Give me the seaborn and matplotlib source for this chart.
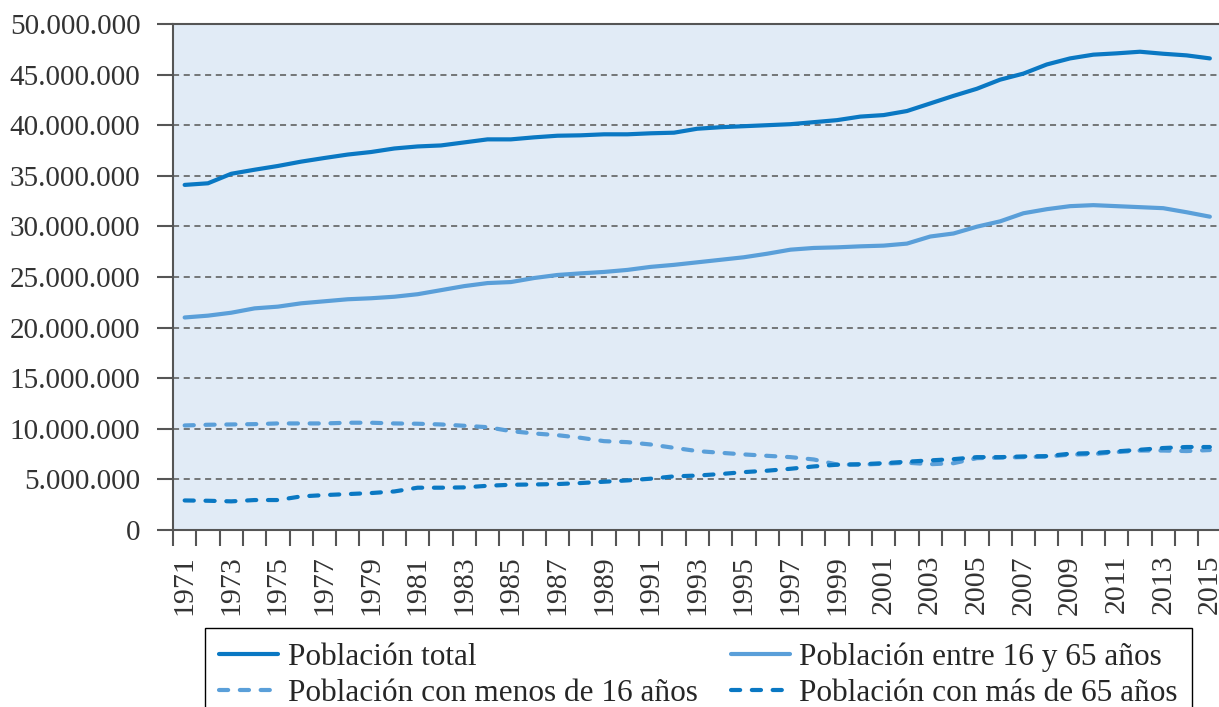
import numpy as np
import pandas as pd
import matplotlib
matplotlib.use("Agg")
import matplotlib.pyplot as plt
import seaborn as sns

years = list(range(1971, 2016))

total = [34.1, 34.26, 35.2, 35.6, 35.97, 36.4, 36.76, 37.1, 37.35, 37.7,
         37.9, 38.0, 38.3, 38.6, 38.6, 38.8, 38.96, 39.0, 39.1, 39.1,
         39.2, 39.26, 39.65, 39.8, 39.9, 40.0, 40.1, 40.3, 40.5, 40.85,
         41.0, 41.4, 42.15, 42.9, 43.6, 44.5, 45.1, 46.0, 46.6, 46.97,
         47.1, 47.26, 47.06, 46.9, 46.6]

entre_16_65 = [21.0, 21.18, 21.47, 21.9, 22.07, 22.4, 22.6, 22.8, 22.9, 23.05,
               23.3, 23.7, 24.1, 24.4, 24.5, 24.9, 25.2, 25.36, 25.5, 25.7,
               26.0, 26.2, 26.45, 26.7, 26.95, 27.3, 27.7, 27.87, 27.93, 28.03,
               28.1, 28.3, 29.0, 29.3, 29.97, 30.5, 31.3, 31.7, 32.0, 32.1,
               32.0, 31.9, 31.8, 31.4, 30.96]

menos_16 = [10.33, 10.4, 10.43, 10.46, 10.53, 10.53, 10.53, 10.6, 10.6, 10.53,
            10.5, 10.43, 10.3, 10.16, 9.77, 9.54, 9.37, 9.11, 8.78, 8.68,
            8.45, 8.12, 7.8, 7.63, 7.47, 7.33, 7.2, 6.97, 6.47, 6.45,
            6.55, 6.65, 6.5, 6.6, 7.1, 7.15, 7.2, 7.25, 7.45, 7.5,
            7.7, 7.85, 7.85, 7.8, 7.9]

mas_65 = [2.92, 2.89, 2.83, 2.96, 2.96, 3.32, 3.45, 3.55, 3.65, 3.81,
          4.18, 4.18, 4.21, 4.37, 4.47, 4.5, 4.54, 4.64, 4.77, 4.9,
          5.07, 5.3, 5.38, 5.53, 5.72, 5.86, 6.05, 6.28, 6.45, 6.5,
          6.6, 6.75, 6.88, 7.0, 7.2, 7.2, 7.27, 7.3, 7.54, 7.6,
          7.77, 7.93, 8.1, 8.2, 8.2]

series_names = ["Población total", "Población entre 16 y 65 años",
                "Población con menos de 16 años", "Población con más de 65 años"]

dark_blue = "#0a78c3"
light_blue = "#5a9fd9"
palette = {
    series_names[0]: dark_blue,
    series_names[1]: light_blue,
    series_names[2]: light_blue,
    series_names[3]: dark_blue,
}
dashes = {
    series_names[0]: "",
    series_names[1]: "",
    series_names[2]: (2.2, 2.8),
    series_names[3]: (2.2, 2.8),
}

frames = []
for name, vals in zip(series_names, [total, entre_16_65, menos_16, mas_65]):
    frames.append(pd.DataFrame({"year": years, "value": np.array(vals) * 1e6, "serie": name}))
df = pd.concat(frames, ignore_index=True)

sns.set_style("ticks")
plt.rcParams['font.family'] = ['Liberation Serif', 'DejaVu Serif']

fig = plt.figure(figsize=(12.19, 7.07), dpi=100)
ax = fig.add_axes([173 / 1219, 1 - 530 / 707, 1048.5 / 1219, 506 / 707])
ax.set_facecolor("#e1ebf6")

sns.lineplot(data=df, x="year", y="value", hue="serie", style="serie",
             hue_order=series_names, style_order=series_names,
             palette=palette, dashes=dashes, linewidth=3,
             dash_capstyle="round", solid_capstyle="round", ax=ax)

ax.set_xlim(1970.5, 2015.5)
ax.set_ylim(0, 50e6)
ax.set_xlabel("")
ax.set_ylabel("")

yt = np.arange(0, 50e6 + 1, 5e6)
ax.set_yticks(yt)
ax.set_yticklabels([f"{int(v):,}".replace(",", ".") for v in yt])
ax.grid(axis="y", linestyle=(0, (4, 3)), color="#555555", linewidth=1.1)
ax.set_axisbelow(True)

odd_years = list(range(1971, 2016, 2))
ax.set_xticks(odd_years)
ax.set_xticklabels([str(y) for y in odd_years], rotation=90, va="top")
ax.set_xticks(np.arange(1970.5, 2016, 1), minor=True)
ax.tick_params(axis="x", which="major", length=0, pad=18, labelsize=21.5, colors="#333333")
ax.tick_params(axis="x", which="minor", length=11.5, width=1.5, color="#555555")
ax.tick_params(axis="y", length=11.5, width=1.5, pad=12, labelsize=21,
               color="#555555", labelcolor="#333333")

for side in ["left", "bottom", "top"]:
    ax.spines[side].set_color("#555555")
    ax.spines[side].set_linewidth(1.5)
ax.spines["right"].set_visible(False)

handles, labels = ax.get_legend_handles_labels()
ax.get_legend().remove()
lookup = dict(zip(labels, handles))
order = [series_names[0], series_names[2], series_names[1], series_names[3]]
ax.legend([lookup[n] for n in order], order, ncol=2, loc="upper left",
          bbox_to_anchor=(205 / 1219, 1 - 628 / 707), bbox_transform=fig.transFigure,
          fontsize=22.5, frameon=True, fancybox=False, edgecolor="black",
          framealpha=1, handlelength=1.9, handletextpad=0.3, columnspacing=1.05,
          labelspacing=0.23, borderpad=0.45, borderaxespad=0)
ax.get_legend().get_frame().set_linewidth(1.0)

fig.savefig("out.png", dpi=100)
